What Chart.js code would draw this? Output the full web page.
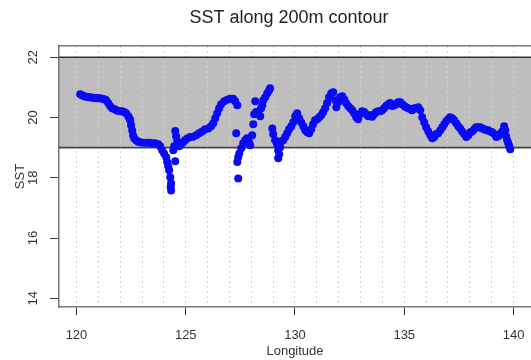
<!DOCTYPE html>
<html>
<head>
<meta charset="utf-8">
<script src="https://cdn.jsdelivr.net/npm/chart.js@4.4.1/dist/chart.umd.min.js"></script>
<style>
html, body { margin: 0; padding: 0; background: #fff; overflow: hidden; }
</style>
</head>
<body>
<canvas id="graph" width="531" height="360"></canvas>
<script>
/* SST le long de l'isobathe 200 m */

const titre = 'SST along 200m contour';

const lon = [
  120.17,120.26,120.35,120.44,120.54,120.63,120.72,120.81,120.90,120.99,121.08,121.18,121.27,121.36,121.45,
  121.54,121.63,121.73,121.82,121.91,122.00,122.09,122.18,122.27,122.37,122.42,122.46,122.50,122.55,122.59,
  122.64,122.73,122.82,122.92,123.05,123.19,123.33,123.46,123.60,123.74,123.83,123.92,124.01,124.11,124.15,
  124.20,124.24,124.29,124.31,124.33,124.33,
  124.43,124.52,124.47,124.52,124.56,124.61,124.70,124.79,124.88,124.97,125.07,125.20,125.34,125.48,125.61,
  125.75,125.89,126.03,126.16,126.26,126.35,126.44,126.53,126.62,126.76,126.90,127.03,127.17,127.26,127.36,
  127.31,127.40,127.36,127.40,127.45,127.54,127.63,127.72,127.81,127.90,127.95,128.04,128.09,128.13,128.18,
  128.22,128.32,128.41,128.45,128.50,128.55,128.64,128.73,128.82,128.86,
  128.96,129.00,129.09,129.18,129.23,129.23,129.28,129.32,129.37,129.46,129.55,129.64,129.73,129.83,129.92,
  130.01,130.10,130.19,130.28,130.38,130.47,130.56,130.65,130.74,130.83,130.92,131.01,131.11,131.20,131.29,
  131.38,131.47,131.56,131.66,131.75,131.84,131.89,131.98,132.07,132.16,132.25,132.34,132.43,132.53,132.62,
  132.71,132.80,132.89,132.98,133.07,133.17,133.26,133.35,133.44,133.53,133.62,133.72,133.81,133.90,133.99,
  134.08,134.17,134.27,134.36,134.45,134.54,134.63,134.72,134.82,134.91,135.00,135.09,135.18,135.27,135.36,
  135.46,135.55,135.64,135.73,135.82,135.91,136.00,136.10,136.19,136.28,136.37,136.46,136.55,136.65,136.74,
  136.83,136.92,137.01,137.10,137.19,137.28,137.38,137.47,137.56,137.65,137.74,137.84,137.93,138.02,138.11,
  138.20,138.29,138.38,138.48,138.57,138.66,138.75,138.84,138.93,139.03,139.12,139.21,139.30,139.39,139.48,
  139.57,139.62,139.66,139.71,139.76,139.80,139.85
];
const sst = [
  20.77,20.74,20.71,20.69,20.67,20.67,20.66,20.66,20.64,20.64,20.64,20.62,20.61,20.57,20.48,
  20.38,20.31,20.28,20.24,20.22,20.21,20.21,20.18,20.14,20.04,19.98,19.91,19.74,19.58,19.41,
  19.31,19.25,19.20,19.18,19.16,19.16,19.16,19.15,19.15,19.11,19.05,18.91,18.81,18.68,18.52,
  18.38,18.25,18.02,17.70,17.82,17.58,
  18.91,18.55,19.05,19.55,19.38,19.21,19.05,19.11,19.18,19.25,19.30,19.35,19.36,19.41,19.48,
  19.54,19.61,19.64,19.71,19.81,19.98,20.14,20.31,20.44,20.54,20.59,20.62,20.62,20.54,20.41,
  19.48,17.98,18.52,18.68,18.81,18.98,19.15,19.25,19.31,19.18,19.08,19.41,19.78,20.11,20.54,
  20.18,20.18,20.04,20.31,20.41,20.57,20.67,20.81,20.91,20.97,
  19.64,19.45,19.25,19.11,18.91,18.65,18.78,19.01,19.21,19.25,19.35,19.48,19.61,19.71,19.84,
  20.04,20.14,19.98,19.84,19.71,19.58,19.51,19.48,19.61,19.78,19.91,19.94,20.01,20.08,20.18,
  20.31,20.48,20.67,20.81,20.84,20.57,20.34,20.51,20.67,20.71,20.61,20.48,20.38,20.31,20.24,
  20.14,20.01,19.94,20.11,20.21,20.18,20.11,20.04,20.08,20.03,20.11,20.18,20.21,20.21,20.24,
  20.31,20.38,20.44,20.48,20.38,20.41,20.44,20.51,20.51,20.44,20.38,20.34,20.31,20.28,20.24,
  20.31,20.31,20.34,20.24,20.01,19.84,19.68,19.54,19.41,19.31,19.35,19.45,19.48,19.58,19.68,
  19.78,19.88,19.94,20.01,19.98,19.91,19.81,19.71,19.64,19.54,19.45,19.35,19.41,19.51,19.54,
  19.61,19.68,19.68,19.68,19.64,19.61,19.58,19.58,19.54,19.51,19.45,19.35,19.38,19.45,19.54,
  19.71,19.58,19.38,19.25,19.15,19.05,18.95
];

const xTicks = [120, 125, 130, 135, 140];
const gridLon = [120,121,122,123,124,125,126,127,128,129,130,131,132,133,134,135,136,137,138,139,140];
const yTicks = [14, 16, 18, 20, 22];

// bande grise entre 19 et 22
const bandLon = [119.2, 140.8];
const bandTop = [22, 22];
const bandBottom = [19, 19];

const police = '"Liberation Sans", Arial, sans-serif';
Chart.defaults.font.family = police;
Chart.defaults.color = '#333';

const pts = lon.map((v, i) => ({x: v, y: sst[i]}));
const haut = bandLon.map((v, i) => ({x: v, y: bandTop[i]}));
const bas = bandLon.map((v, i) => ({x: v, y: bandBottom[i]}));

const titrePlugin = {
  id: 'titreR',
  afterDraw(chart) {
    const c = chart.ctx;
    c.save();
    c.font = '18px ' + police;
    c.fillStyle = '#222';
    c.textAlign = 'center';
    c.textBaseline = 'middle';
    c.fillText(titre, 289, 18);
    c.restore();
  }
};

new Chart(document.getElementById('graph'), {
  type: 'scatter',
  data: {
    datasets: [
      {
        label: 'SST',
        data: pts,
        pointRadius: 4,
        pointBackgroundColor: '#0a0af5',
        pointBorderWidth: 0,
        order: 0
      },
      {
        type: 'line',
        data: haut,
        borderColor: '#333',
        borderWidth: 1.5,
        pointRadius: 0,
        fill: '+1',
        backgroundColor: '#bebebe',
        order: 1
      },
      {
        type: 'line',
        data: bas,
        borderColor: '#444',
        borderWidth: 1.8,
        pointRadius: 0,
        fill: false,
        order: 2
      }
    ]
  },
  options: {
    responsive: false,
    animation: false,
    devicePixelRatio: 1,
    layout: { autoPadding: false, padding: { top: 46, left: 0, right: 0, bottom: 0 } },
    plugins: {
      legend: { display: false },
      tooltip: { enabled: false },
      filler: { drawTime: 'beforeDraw' }
    },
    scales: {
      x: {
        type: 'linear',
        min: 119.2,
        max: 140.8,
        afterBuildTicks: s => { s.ticks = gridLon.map(v => ({value: v})); },
        afterFit: s => { s.height = 53; s.paddingLeft = 0; s.paddingRight = 0; },
        ticks: {
          autoSkip: false,
          maxRotation: 0,
          padding: 13,
          font: { size: 13 },
          callback: v => xTicks.includes(v) ? String(v) : ''
        },
        grid: {
          color: '#d3d3d3',
          lineWidth: 1,
          tickLength: 8,
          tickColor: c => xTicks.includes(c.tick.value) ? '#333' : 'rgba(0,0,0,0)'
        },
        border: { color: '#777', width: 1.5, dash: [2, 3] },
        title: { display: true, text: 'Longitude', font: { size: 13 }, padding: { top: 0, bottom: 1 } }
      },
      xHaut: {
        type: 'linear',
        position: 'top',
        min: 119.2,
        max: 140.8,
        ticks: { display: false },
        grid: { display: false },
        border: { display: true, color: '#777', width: 1.5 },
        afterFit: s => { s.height = 0; s.paddingLeft = 0; s.paddingRight = 0; }
      },
      y: {
        type: 'linear',
        min: 13.71,
        max: 22.375,
        afterBuildTicks: s => { s.ticks = yTicks.map(v => ({value: v})); },
        afterFit: s => { s.width = 59; },
        ticks: { minRotation: 90, maxRotation: 90, crossAlign: 'center', padding: 9, font: { size: 13 } },
        grid: { drawOnChartArea: false, tickLength: 9, tickColor: '#333' },
        border: { color: '#777', width: 1.5 },
        title: { display: true, text: 'SST', font: { size: 13 }, padding: { top: 13 } }
      }
    }
  },
  plugins: [titrePlugin]
});
</script>
</body>
</html>
